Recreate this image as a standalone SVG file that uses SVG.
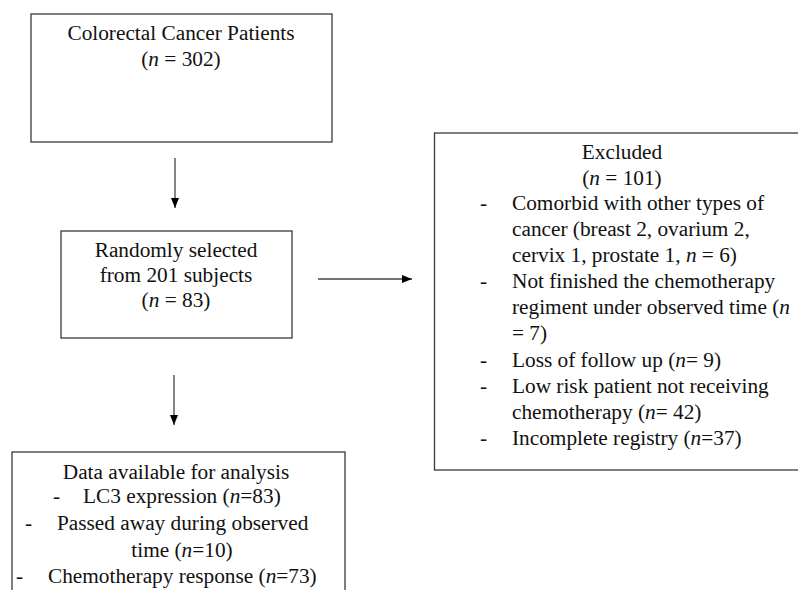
<svg xmlns="http://www.w3.org/2000/svg" width="798" height="590" viewBox="0 0 798 590">
<style>
.box{fill:#fff;stroke:#3a3a3a;stroke-width:1.3}
.t{font-family:"Liberation Serif","Times New Roman",serif;font-size:21.3px;fill:#111}
.c{text-anchor:middle}
.conn{stroke:#444;stroke-width:1.3;fill:none}
</style>
<defs>
<marker id="ah" markerWidth="10" markerHeight="8" refX="10" refY="4" orient="auto" markerUnits="userSpaceOnUse">
<path d="M0,0 L10,4 L0,8 Z" fill="#000"/>
</marker>
</defs>
<rect width="798" height="590" fill="#fff"/>
<g id="connectors">
<line class="conn" x1="175" y1="158" x2="175" y2="208" marker-end="url(#ah)"/>
<line class="conn" x1="318" y1="279" x2="412" y2="279" marker-end="url(#ah)"/>
<line class="conn" x1="174" y1="375" x2="174" y2="425" marker-end="url(#ah)"/>
</g>
<g id="n1">
<rect class="box" x="31" y="14" width="301" height="128"/>
<text class="t c" x="181" y="40">Colorectal Cancer Patients</text>
<text class="t c" x="181" y="66">(<tspan font-style="italic">n</tspan> = 302)</text>
</g>
<g id="n2">
<rect class="box" x="61" y="231" width="231" height="107"/>
<text class="t c" x="176" y="257">Randomly selected</text>
<text class="t c" x="176" y="282">from 201 subjects</text>
<text class="t c" x="176" y="307">(<tspan font-style="italic">n</tspan> = 83)</text>
</g>
<g id="n3">
<rect class="box" x="12" y="452" width="333" height="160"/>
<text class="t c" x="176" y="479">Data available for analysis</text>
<text class="t" x="53" y="503">-</text>
<text class="t" x="83" y="503">LC3 expression (<tspan font-style="italic">n</tspan>=83)</text>
<text class="t" x="25" y="530">-</text>
<text class="t" x="57" y="530">Passed away during observed</text>
<text class="t c" x="182" y="557">time (<tspan font-style="italic">n</tspan>=10)</text>
<text class="t" x="16" y="583">-</text>
<text class="t" x="48" y="583">Chemotherapy response (<tspan font-style="italic">n</tspan>=73)</text>
</g>
<g id="n4">
<rect class="box" x="434.5" y="133" width="380" height="337"/>
<text class="t c" x="622" y="159">Excluded</text>
<text class="t c" x="622" y="185">(<tspan font-style="italic">n</tspan> = 101)</text>
<text class="t" x="480" y="210">-</text>
<text class="t" x="512" y="210">Comorbid with other types of</text>
<text class="t" x="512" y="236">cancer (breast 2, ovarium 2,</text>
<text class="t" x="512" y="262">cervix 1, prostate 1, <tspan font-style="italic">n</tspan> = 6)</text>
<text class="t" x="480" y="288">-</text>
<text class="t" x="512" y="288">Not finished the chemotherapy</text>
<text class="t" x="512" y="314">regiment under observed time (<tspan font-style="italic">n</tspan></text>
<text class="t" x="512" y="340">= 7)</text>
<text class="t" x="480" y="367">-</text>
<text class="t" x="512" y="367">Loss of follow up (<tspan font-style="italic">n</tspan>= 9)</text>
<text class="t" x="480" y="393">-</text>
<text class="t" x="512" y="393">Low risk patient not receiving</text>
<text class="t" x="512" y="419">chemotherapy (<tspan font-style="italic">n</tspan>= 42)</text>
<text class="t" x="480" y="445">-</text>
<text class="t" x="512" y="445">Incomplete registry (<tspan font-style="italic">n</tspan>=37)</text>
</g>
</svg>
